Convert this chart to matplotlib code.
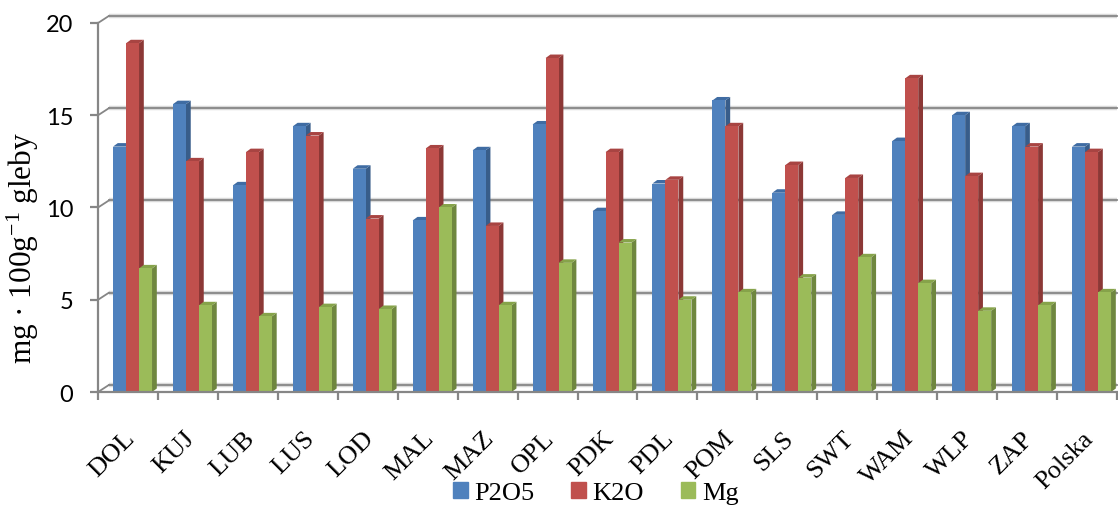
import matplotlib.pyplot as plt
from matplotlib.patches import Polygon, Patch
from matplotlib.font_manager import FontProperties
import numpy as np

plt.rcParams['mathtext.fontset'] = 'custom'
plt.rcParams['mathtext.rm'] = 'Liberation Serif'
plt.rcParams['mathtext.it'] = 'Liberation Serif:italic'

regions = ["DOL", "KUJ", "LUB", "LUS", "LOD", "MAL", "MAZ", "OPL", "PDK",
           "PDL", "POM", "SLS", "SWT", "WAM", "WLP", "ZAP", "Polska"]
p2o5 = [13.3, 15.6, 11.2, 14.4, 12.1, 9.3, 13.1, 14.5, 9.8,
        11.3, 15.8, 10.8, 9.6, 13.6, 15.0, 14.4, 13.3]
k2o = [18.9, 12.5, 13.0, 13.9, 9.4, 13.2, 9.0, 18.1, 13.0,
       11.5, 14.4, 12.3, 11.6, 17.0, 11.7, 13.3, 13.0]
mg = [6.7, 4.7, 4.1, 4.6, 4.5, 10.0, 4.7, 7.0, 8.1,
      5.0, 5.4, 6.2, 7.3, 5.9, 4.4, 4.7, 5.4]
series_names = ["P2O5", "K2O", "Mg"]

front = ["#4F81BD", "#C0504D", "#9BBB59"]
side = ["#385D8A", "#8C3836", "#6F873F"]
top = ["#3F6CA3", "#A84442", "#86A34A"]
grid_col = "#868686"
serif = FontProperties(family="Liberation Serif", size=19)
serif_big = FontProperties(family="Liberation Serif", size=22.5)

fig = plt.figure(figsize=(11.18, 5.06), dpi=100)
ax = fig.add_axes([0.0877, 0.2233, 0.9114, 0.7293])
ax.set_xlim(-0.5, len(regions) - 0.5)
ax.set_ylim(0, 20)

# 3D depth offsets (data units)
gdx, gdy = 0.18, 0.38   # back wall
bdx, bdy = 0.08, 0.19   # bar depth
w = 0.217
shift = 0.075

# back wall gridlines
x0, x1 = -0.5, len(regions) - 0.5
for v in range(0, 21, 5):
    ax.plot([x0 + gdx, x1], [v + gdy, v + gdy], color="#d9d9d9", lw=3.2,
            zorder=1, clip_on=False, solid_capstyle="butt")
    ax.plot([x0 + gdx, x1], [v + gdy, v + gdy], color=grid_col, lw=1.3,
            zorder=1.1, clip_on=False)
    ax.plot([x0, x0 + gdx], [v, v + gdy], color=grid_col, lw=1.3,
            zorder=1.1, clip_on=False)

data = [p2o5, k2o, mg]
for ci in range(len(regions)):
    for si, vals in enumerate(data):
        v = vals[ci]
        xl = ci + shift + (si - 1.5) * w
        xr = xl + w
        ax.add_patch(Polygon([(xr, 0), (xr + bdx, bdy), (xr + bdx, v + bdy), (xr, v)],
                             closed=True, fc=side[si], ec="none", zorder=2))
        ax.add_patch(Polygon([(xl, v), (xr, v), (xr + bdx, v + bdy), (xl + bdx, v + bdy)],
                             closed=True, fc=top[si], ec="none", zorder=2))
        ax.bar(xl, v, width=w, align="edge", color=front[si], zorder=2)

for s in ["top", "right"]:
    ax.spines[s].set_visible(False)
for s in ["left", "bottom"]:
    ax.spines[s].set_color(grid_col)
    ax.spines[s].set_linewidth(1.6)
    ax.spines[s].set_zorder(3)

ax.set_yticks(range(0, 21, 5))
ax.tick_params(axis="y", length=6, width=1.6, color=grid_col, pad=12,
               labelsize=17)
for lab in ax.get_yticklabels():
    lab.set_family("Lato")

ax.set_xticks(np.arange(-0.5, len(regions), 1))
ax.set_xticklabels([])
ax.tick_params(axis="x", which="major", length=6, width=1.6, color=grid_col)
ax.set_xticks(np.arange(len(regions)) - 0.08, minor=True)
ax.set_xticklabels(regions, minor=True, rotation=45, ha="right",
                   rotation_mode="anchor", fontproperties=serif)
ax.tick_params(axis="x", which="minor", length=0, pad=25)

ax.set_ylabel(r"mg · 100g$^{-1}$ gleby", fontproperties=serif_big)
ax.yaxis.set_label_coords(-0.056, 0.393)

handles = [Patch(color=c) for c in front]
leg = fig.legend(handles, series_names, loc="center", bbox_to_anchor=(0.533, 0.024),
                 ncol=3, frameon=False, prop=serif,
                 handlelength=0.55, handleheight=0.55, handletextpad=0.25,
                 columnspacing=1.4, borderpad=0)
for t in leg.get_texts():
    t.set_fontproperties(serif)

fig.savefig("out.png", dpi=100)
